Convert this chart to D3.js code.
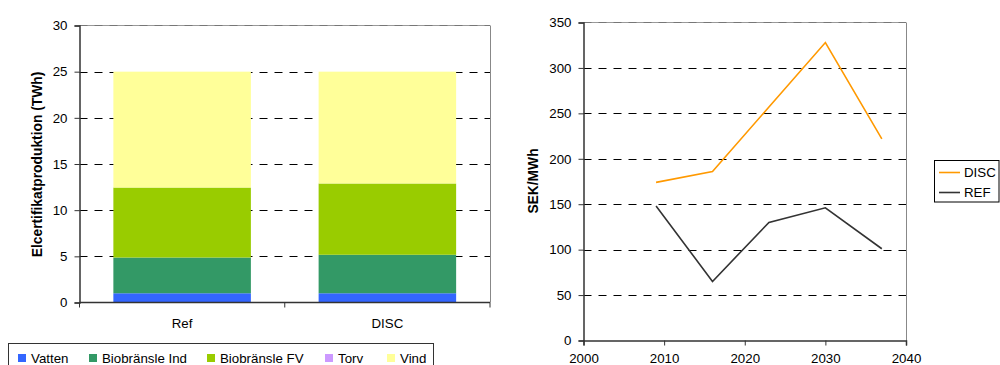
<!DOCTYPE html>
<html>
<head>
<meta charset="utf-8">
<script src="https://cdn.jsdelivr.net/npm/d3@7"></script>
<style>
  html, body { margin: 0; padding: 0; background: #fff; }
  svg { display: block; font-family: "Liberation Sans", Arial, sans-serif; }
</style>
</head>
<body>
<svg id="chart" width="1000" height="365"></svg>
<script>
// Stacked electricity-certificate production per scenario (TWh)
const scenarios = ["Ref", "DISC"];
const sources = ["Vatten", "Biobränsle Ind", "Biobränsle FV", "Torv", "Vind"];
const sourceColors = ["#3366FF", "#339966", "#99CC00", "#CC99FF", "#FFFF99"];
const vatten = [1.0, 1.0];
const bioInd = [3.87, 4.17];
const bioFV = [7.58, 7.72];
const torv = [0, 0];
const vind = [12.55, 12.11];
const leftTicks = [0, 5, 10, 15, 20, 25, 30];

// Certificate price over time (SEK/MWh)
const years = [2009, 2016, 2023, 2030, 2037];
const discPrice = [174, 186, 257, 328, 222];
const refPrice = [148, 65, 130, 146, 101];
const rightYTicks = [0, 50, 100, 150, 200, 250, 300, 350];
const rightXTicks = [2000, 2010, 2020, 2030, 2040];

const svg = d3.select("#chart");
const axisColor = "#333";
const fontSize = 13.3;
const titleSize = 13.8;

// ---------- Left: stacked bars ----------
const L = { x0: 79.5, x1: 490, y0: 302.5, y1: 25.5 };
const xBand = d3.scaleBand().domain(scenarios).range([L.x0, L.x1])
  .paddingInner(0.33).paddingOuter(0.165);
const yL = d3.scaleLinear().domain([0, 30]).range([L.y0, L.y1]);

const rows = scenarios.map((s, i) => ({
  scenario: s,
  "Vatten": vatten[i], "Biobränsle Ind": bioInd[i], "Biobränsle FV": bioFV[i],
  "Torv": torv[i], "Vind": vind[i]
}));
const stacked = d3.stack().keys(sources)(rows);

const gL = svg.append("g");
// gridlines (drawn behind bars)
gL.selectAll("line.grid").data(leftTicks.filter(t => t > 0 && t < 30)).join("line")
  .attr("x1", L.x0).attr("x2", L.x1)
  .attr("y1", d => Math.round(yL(d)) + 0.5).attr("y2", d => Math.round(yL(d)) + 0.5)
  .attr("stroke", "#000").attr("stroke-dasharray", "8,7");
// plot border top/right
gL.append("line").attr("x1", L.x0).attr("x2", L.x1).attr("y1", L.y1).attr("y2", L.y1)
  .attr("stroke", "#999");
gL.append("line").attr("x1", L.x0).attr("x2", L.x1).attr("y1", L.y1).attr("y2", L.y1)
  .attr("stroke", "#777").attr("stroke-dasharray", "8,7");
gL.append("line").attr("x1", L.x1 + 0.5).attr("x2", L.x1 + 0.5).attr("y1", L.y1).attr("y2", L.y0)
  .attr("stroke", "#888");

gL.selectAll("g.layer").data(stacked).join("g")
  .attr("fill", (d, i) => sourceColors[i])
  .selectAll("rect").data(d => d).join("rect")
  .attr("x", d => xBand(d.data.scenario))
  .attr("width", xBand.bandwidth())
  .attr("y", d => yL(d[1]))
  .attr("height", d => yL(d[0]) - yL(d[1]));

// y axis
const yAxisL = d3.axisLeft(yL).tickValues(leftTicks).tickSize(5).tickPadding(7);
gL.append("g").attr("transform", `translate(${L.x0},0)`).call(yAxisL);
// category axis
const xAxisL = gL.append("g").attr("transform", `translate(0,${L.y0})`);
xAxisL.append("line").attr("x1", L.x0).attr("x2", L.x1).attr("stroke", axisColor).attr("stroke-width", 1.5);
const sectionEdges = [L.x0, (L.x0 + L.x1) / 2, L.x1];
xAxisL.selectAll("line.tk").data(sectionEdges).join("line")
  .attr("x1", d => d).attr("x2", d => d).attr("y1", 0).attr("y2", 5).attr("stroke", axisColor);
xAxisL.selectAll("text").data(scenarios).join("text")
  .attr("x", d => xBand(d) + xBand.bandwidth() / 2)
  .attr("y", 25).attr("text-anchor", "middle")
  .attr("font-size", fontSize).attr("fill", "#000").text(d => d);

gL.append("text")
  .attr("transform", `translate(41.5,164.5) rotate(-90)`)
  .attr("text-anchor", "middle").attr("font-size", titleSize).attr("font-weight", "bold")
  .text("Elcertifikatproduktion (TWh)");

// legend
const legL = svg.append("g");
legL.append("rect").attr("x", 8.5).attr("y", 343.5).attr("width", 425).attr("height", 30)
  .attr("fill", "#fff").attr("stroke", "#333");
const legPos = [18, 89, 207, 325, 387];
sources.forEach((s, i) => {
  legL.append("rect").attr("x", legPos[i]).attr("y", 354).attr("width", 8).attr("height", 8)
    .attr("fill", sourceColors[i]);
  legL.append("text").attr("x", legPos[i] + 13).attr("y", 362.5)
    .attr("font-size", fontSize).attr("fill", "#000").text(s);
});

// ---------- Right: price lines ----------
const R = { x0: 583.5, x1: 906, y0: 340.5, y1: 22.5 };
const xR = d3.scaleLinear().domain([2000, 2040]).range([R.x0, R.x1]);
const yR = d3.scaleLinear().domain([0, 350]).range([R.y0, R.y1]);
const gR = svg.append("g");

gR.selectAll("line.grid").data(rightYTicks.filter(t => t > 0 && t < 350)).join("line")
  .attr("x1", R.x0).attr("x2", R.x1)
  .attr("y1", d => Math.round(yR(d)) + 0.5).attr("y2", d => Math.round(yR(d)) + 0.5)
  .attr("stroke", "#000").attr("stroke-dasharray", "8,7");
gR.append("line").attr("x1", R.x0).attr("x2", R.x1).attr("y1", R.y1).attr("y2", R.y1)
  .attr("stroke", "#999");
gR.append("line").attr("x1", R.x0).attr("x2", R.x1).attr("y1", R.y1).attr("y2", R.y1)
  .attr("stroke", "#777").attr("stroke-dasharray", "8,7");
gR.append("line").attr("x1", R.x1 + 0.5).attr("x2", R.x1 + 0.5).attr("y1", R.y1).attr("y2", R.y0)
  .attr("stroke", "#888");

const yAxisR = d3.axisLeft(yR).tickValues(rightYTicks).tickSize(5).tickPadding(7);
gR.append("g").attr("transform", `translate(${R.x0},0)`).call(yAxisR);
const xAxisR = d3.axisBottom(xR).tickValues(rightXTicks).tickFormat(d3.format("d"))
  .tickSize(5).tickPadding(8);
gR.append("g").attr("transform", `translate(0,${R.y0})`).call(xAxisR);

const line = d3.line().x((d, i) => xR(years[i])).y(d => yR(d));
gR.append("path").datum(refPrice).attr("d", line)
  .attr("fill", "none").attr("stroke", "#333333").attr("stroke-width", 1.6);
gR.append("path").datum(discPrice).attr("d", line)
  .attr("fill", "none").attr("stroke", "#FF9900").attr("stroke-width", 1.6);

gR.append("text")
  .attr("transform", `translate(538,181) rotate(-90)`)
  .attr("text-anchor", "middle").attr("font-size", titleSize).attr("font-weight", "bold")
  .text("SEK/MWh");

// style axes
svg.selectAll(".domain").attr("stroke", axisColor).attr("stroke-width", 1.5);
svg.selectAll(".tick line").attr("stroke", axisColor);
svg.selectAll(".tick text").attr("font-size", fontSize).attr("fill", "#000")
  .attr("font-family", "Liberation Sans, Arial, sans-serif");

// right legend
const legR = svg.append("g");
legR.append("rect").attr("x", 934.5).attr("y", 160.5).attr("width", 64.5).attr("height", 41.5)
  .attr("fill", "#fff").attr("stroke", "#000");
const legSeries = [["DISC", "#FF9900", 172.5], ["REF", "#333333", 192.5]];
legSeries.forEach(([name, col, y]) => {
  legR.append("line").attr("x1", 939).attr("x2", 960).attr("y1", y).attr("y2", y)
    .attr("stroke", col).attr("stroke-width", 1.6);
  legR.append("text").attr("x", 964).attr("y", y + 4.5).attr("font-size", fontSize)
    .attr("fill", "#000").text(name);
});
</script>
</body>
</html>
